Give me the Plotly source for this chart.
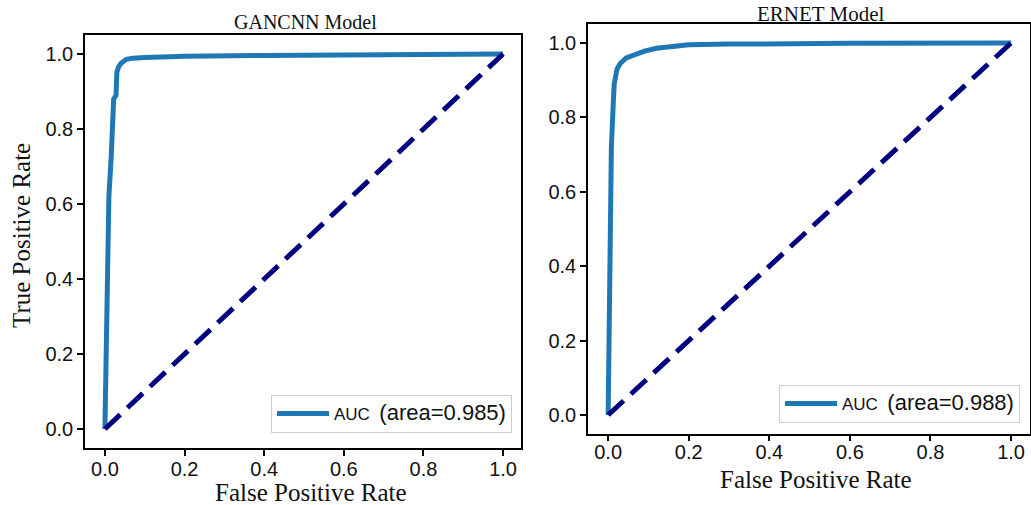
import plotly.graph_objects as go

W, H = 1031, 505

# ROC curve of the GANCNN model
gan_fpr = [0.0, 0.002, 0.004, 0.006, 0.010, 0.016, 0.018, 0.019, 0.022, 0.028, 0.029,
           0.030, 0.034, 0.040, 0.054, 0.070, 0.100, 0.200, 0.400, 0.600, 0.800, 1.0]
gan_tpr = [0.0, 0.15, 0.40, 0.52, 0.62, 0.73, 0.80, 0.86, 0.88, 0.89, 0.92,
           0.950, 0.965, 0.975, 0.986, 0.989, 0.991, 0.994, 0.996, 0.998, 0.999, 1.0]
gan_auc = 0.985

# ROC curve of the ERNET model
ern_fpr = [0.0, 0.002, 0.003, 0.005, 0.008, 0.012, 0.015, 0.022, 0.030, 0.045,
           0.063, 0.090, 0.120, 0.160, 0.200, 0.300, 0.400, 0.600, 1.0]
ern_tpr = [0.0, 0.20, 0.40, 0.62, 0.72, 0.82, 0.89, 0.93, 0.945, 0.960,
           0.968, 0.978, 0.986, 0.991, 0.995, 0.997, 0.998, 0.999, 1.0]
ern_auc = 0.988

# chance line
diag = [0.0, 1.0]

titles = ["GANCNN Model", "ERNET Model"]
tick_vals = [0.0, 0.2, 0.4, 0.6, 0.8, 1.0]
tick_text = ["0.0", "0.2", "0.4", "0.6", "0.8", "1.0"]

CURVE = "#1f77b4"
NAVY = "#000080"
SANS = "Liberation Sans, Arial, sans-serif"
SERIF = "Liberation Serif, Times New Roman, serif"


def px_x(p):
    return p / W


def px_y(p):
    return 1 - p / H


def legend_name(auc):
    return ('AUC&nbsp;&nbsp;<span style="font-size:22px">(area=%.3f)</span>' % auc)


fig = go.Figure()

fig.add_trace(go.Scatter(x=gan_fpr, y=gan_tpr, mode="lines",
                         line=dict(color=CURVE, width=5),
                         name=legend_name(gan_auc), xaxis="x", yaxis="y",
                         legend="legend"))
fig.add_trace(go.Scatter(x=diag, y=diag, mode="lines",
                         line=dict(color=NAVY, width=5, dash="21px,10px"),
                         showlegend=False, xaxis="x", yaxis="y"))
fig.add_trace(go.Scatter(x=ern_fpr, y=ern_tpr, mode="lines",
                         line=dict(color=CURVE, width=5),
                         name=legend_name(ern_auc), xaxis="x2", yaxis="y2",
                         legend="legend2"))
fig.add_trace(go.Scatter(x=diag, y=diag, mode="lines",
                         line=dict(color=NAVY, width=5, dash="21px,10px"),
                         showlegend=False, xaxis="x2", yaxis="y2"))

axis_common = dict(
    showgrid=False, zeroline=False, showline=True, mirror=True,
    linecolor="black", linewidth=1.5,
    ticks="outside", ticklen=6, tickwidth=1.5, tickcolor="black",
    tickvals=tick_vals, ticktext=tick_text,
    tickfont=dict(family=SANS, size=20, color="#111111"),
)

legend_common = dict(
    xanchor="right", yanchor="bottom", itemwidth=52,
    bgcolor="white", bordercolor="#cccccc", borderwidth=1,
    font=dict(family=SANS, size=17, color="#111111"),
)

fig.update_layout(
    width=W, height=H,
    margin=dict(l=0, r=0, t=0, b=0),
    paper_bgcolor="white", plot_bgcolor="white",
    xaxis=dict(domain=[px_x(85), px_x(521)], range=[-0.05, 1.045],
               anchor="y", ticklabelstandoff=-4, **axis_common),
    yaxis=dict(domain=[px_y(447.75), px_y(35.25)], range=[-0.05, 1.05],
               anchor="x", **axis_common),
    xaxis2=dict(domain=[px_x(588), px_x(1030)], range=[-0.05, 1.047],
                anchor="y2", ticklabelstandoff=-6, **axis_common),
    yaxis2=dict(domain=[px_y(433.6), px_y(24.4)], range=[-0.05, 1.05],
                anchor="x2", **axis_common),
    legend=dict(x=px_x(512), y=px_y(433), **legend_common),
    legend2=dict(x=px_x(1020), y=px_y(423), **legend_common),
)

annotations = [
    dict(text=titles[0], x=px_x(305), y=px_y(22), size=20),
    dict(text=titles[1], x=px_x(821), y=px_y(13.5), size=21),
    dict(text="False Positive Rate", x=px_x(311), y=px_y(492), size=25),
    dict(text="False Positive Rate", x=px_x(816), y=px_y(479), size=25),
    dict(text="True Positive Rate", x=px_x(22), y=px_y(236), size=25,
         textangle=-90),
]
for a in annotations:
    size = a.pop("size")
    a.update(xref="paper", yref="paper", showarrow=False,
             xanchor="center", yanchor="middle",
             font=dict(family=SERIF, size=size, color="#111111"))

fig.update_layout(annotations=annotations)

fig.write_html("out.html")
